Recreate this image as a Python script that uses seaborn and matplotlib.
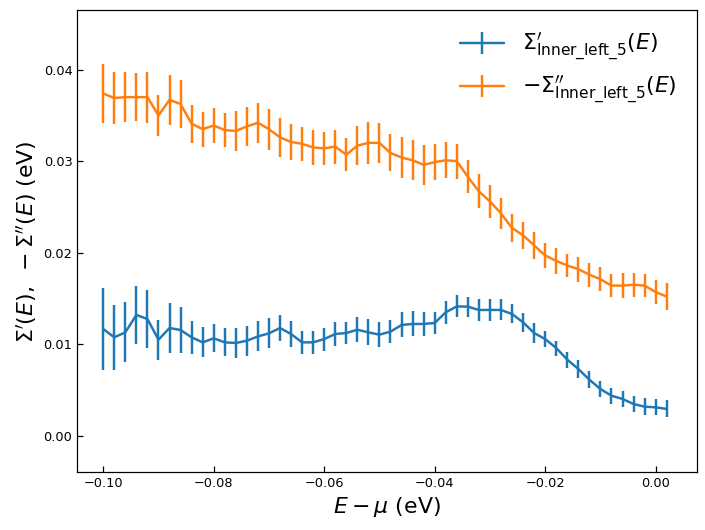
import matplotlib
matplotlib.use("Agg")
import matplotlib.pyplot as plt
import seaborn as sns

# energy grid (eV, relative to mu)
energy = [-0.100, -0.098, -0.096, -0.094, -0.092, -0.090, -0.088, -0.086, -0.084, -0.082,
          -0.080, -0.078, -0.076, -0.074, -0.072, -0.070, -0.068, -0.066, -0.064, -0.062,
          -0.060, -0.058, -0.056, -0.054, -0.052, -0.050, -0.048, -0.046, -0.044, -0.042,
          -0.040, -0.038, -0.036, -0.034, -0.032, -0.030, -0.028, -0.026, -0.024, -0.022,
          -0.020, -0.018, -0.016, -0.014, -0.012, -0.010, -0.008, -0.006, -0.004, -0.002,
          0.000, 0.002]

# real part Sigma'
sigma_re = [0.01166, 0.01075, 0.01129, 0.01319, 0.01275, 0.01049, 0.01177, 0.01155, 0.01075, 0.01020,
            0.01064, 0.01020, 0.01013, 0.01038, 0.01085, 0.01118, 0.01177, 0.01111, 0.01020, 0.01020,
            0.01056, 0.01111, 0.01122, 0.01158, 0.01129, 0.01104, 0.01137, 0.01210, 0.01221, 0.01221,
            0.01232, 0.01348, 0.01413, 0.01410, 0.01374, 0.01374, 0.01374, 0.01330, 0.01239, 0.01122,
            0.01056, 0.00958, 0.00831, 0.00729, 0.00612, 0.00510, 0.00437, 0.00401, 0.00346, 0.00317,
            0.00310, 0.00292]
sigma_re_err = [0.00446, 0.00355, 0.00328, 0.00317, 0.00319, 0.00220, 0.00273, 0.00251, 0.00182, 0.00164,
                0.00153, 0.00153, 0.00164, 0.00164, 0.00164, 0.00164, 0.00146, 0.00137, 0.00128, 0.00128,
                0.00126, 0.00128, 0.00120, 0.00137, 0.00142, 0.00137, 0.00128, 0.00137, 0.00137, 0.00133,
                0.00118, 0.00128, 0.00120, 0.00109, 0.00122, 0.00122, 0.00115, 0.00104, 0.00104, 0.00110,
                0.00084, 0.00082, 0.00086, 0.00097, 0.00091, 0.00086, 0.00089, 0.00086, 0.00091, 0.00095,
                0.00088, 0.00093]

# minus imaginary part -Sigma''
sigma_im = [0.0374, 0.0369, 0.0370, 0.0370, 0.0370, 0.0350, 0.0367, 0.03625, 0.0341, 0.0335,
            0.0339, 0.0334, 0.0333, 0.0338, 0.0342, 0.0335, 0.0326, 0.0321, 0.0319, 0.0315,
            0.0314, 0.0316, 0.0307, 0.0317, 0.0320, 0.0320, 0.0309, 0.0304, 0.0301, 0.0296,
            0.0299, 0.0301, 0.0300, 0.0283, 0.0267, 0.0256, 0.0243, 0.0227, 0.0219, 0.0208,
            0.0197, 0.0191, 0.0186, 0.0182, 0.0176, 0.0171, 0.0164, 0.0164, 0.0165, 0.0164,
            0.0157, 0.0152]
sigma_im_err = [0.00320, 0.00286, 0.00270, 0.00264, 0.00279, 0.00228, 0.00277, 0.00264, 0.00208, 0.00190,
                0.00190, 0.00190, 0.00217, 0.00210, 0.00219, 0.00224, 0.00211, 0.00200, 0.00184, 0.00188,
                0.00184, 0.00186, 0.00179, 0.00210, 0.00226, 0.00215, 0.00202, 0.00220, 0.00219, 0.00215,
                0.00199, 0.00199, 0.00191, 0.00182, 0.00186, 0.00180, 0.00166, 0.00157, 0.00149, 0.00144,
                0.00138, 0.00140, 0.00122, 0.00137, 0.00130, 0.00133, 0.00124, 0.00137, 0.00131, 0.00124,
                0.00130, 0.00146]

sns.set_theme(style="ticks", rc={"text.color": "black", "axes.labelcolor": "black",
                                 "xtick.color": "black", "ytick.color": "black",
                                 "axes.edgecolor": "black"})
plt.rcParams['font.family'] = ['DejaVu Sans']
plt.rcParams['mathtext.fontset'] = 'dejavusans'
colors = sns.color_palette("tab10")

fig, ax = plt.subplots(figsize=(8, 6.015), dpi=88.125)

ax.errorbar(energy, sigma_re, yerr=sigma_re_err, color=colors[0], lw=2, elinewidth=2,
            label=r"$\Sigma^{\prime}_{\mathrm{Inner\_left\_5}}(E)$")
ax.errorbar(energy, sigma_im, yerr=sigma_im_err, color=colors[1], lw=2, elinewidth=2,
            label=r"$-\Sigma^{\prime\prime}_{\mathrm{Inner\_left\_5}}(E)$")

ax.set_xlim(-0.1048, 0.0074)
ax.set_ylim(-0.0040, 0.0465)
ax.set_xticks([-0.10, -0.08, -0.06, -0.04, -0.02, 0.00])
ax.set_yticks([0.00, 0.01, 0.02, 0.03, 0.04])
ax.tick_params(direction='in', length=4.5, width=1, labelsize=10.5)
for s in ax.spines.values():
    s.set_linewidth(1)

ax.set_xlabel(r"$E - \mu$ (eV)", fontsize=18)
ax.set_ylabel(r"$\Sigma^{\prime}(E),\ -\Sigma^{\prime\prime}(E)$ (eV)", fontsize=18)
ax.legend(loc='upper right', frameon=False, fontsize=18)

fig.subplots_adjust(left=0.1088, right=0.988, bottom=0.1089, top=0.9806)
fig.savefig("out.png", dpi=88.125)
